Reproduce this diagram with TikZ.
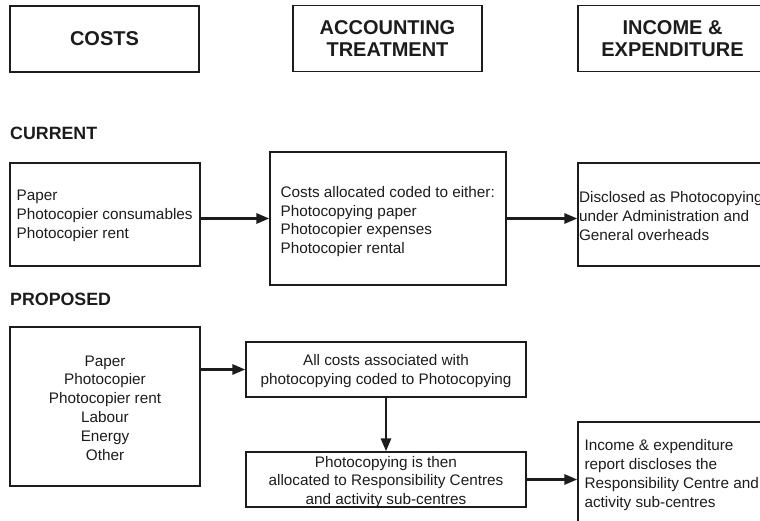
\documentclass[tikz,border=0pt]{standalone}
\usepackage{fontspec}
\setmainfont{Liberation Sans}
\usetikzlibrary{arrows.meta}
\definecolor{ink}{RGB}{30,27,28}
\tikzset{
  frame/.style={draw=ink, line width=1.3pt, inner sep=0pt},
  head/.style={frame, align=center, text=ink, minimum width=189pt,
    minimum height=66pt, font=\fontsize{20}{22}\selectfont\bfseries},
  body/.style={inner sep=0pt, text=ink, yshift=-1.5pt,
    font=\fontsize{15.3}{18.8}\selectfont},
  ltext/.style={body, align=left, anchor=west},
  ctext/.style={body, align=center},
  section/.style={anchor=west, inner sep=0pt, text=ink,
    font=\fontsize{17.8}{20}\selectfont\bfseries},
  flow/.style={draw=ink, line width=2.8pt,
    -{Triangle[length=13pt,width=10pt]}}
}
\begin{document}
\begin{tikzpicture}[x=1pt,y=-1pt]
  \useasboundingbox (0,0) rectangle (760,521);
  \clip (0,0) rectangle (760,521);

  % column headings
  \node[head] (hcost) at (104.5,39) {COSTS};
  \node[head] (hacct) at (387.5,38.5) {ACCOUNTING\\TREATMENT};
  \node[head] (hinc)  at (672.5,38.5) {INCOME \&\\EXPENDITURE};

  % current arrangement
  \node[section] (cur) at (10,133) {CURRENT};
  \node[frame, minimum width=190pt, minimum height=103pt] (c1) at (105,214.5) {};
  \node[ltext, xshift=7pt] (c1t) at (c1.west)
    {Paper\\Photocopier consumables\\Photocopier rent};
  \node[frame, minimum width=236pt, minimum height=133pt] (c2) at (388,218.5) {};
  \node[ltext, xshift=11pt, yshift=-1.5pt] (c2t) at (c2.west)
    {Costs allocated coded to either:\\Photocopying paper\\Photocopier expenses\\Photocopier rental};
  \node[frame, minimum width=194pt, minimum height=103pt] (c3) at (675,214.5) {};
  \node[ltext, xshift=1.5pt] (c3t) at (c3.west)
    {Disclosed as Photocopying\\under Administration and\\General overheads};

  \draw[flow] (c1.east |- c2.west) -- (c2.west);
  \draw[flow] (c2.east) -- (c2.east -| c3.west);

  % proposed arrangement
  \node[section] (prop) at (10,299) {PROPOSED};
  \node[frame, minimum width=190pt, minimum height=159pt] (p1) at (105,406.5) {};
  \node[ctext] (p1t) at (p1.center)
    {Paper\\Photocopier\\Photocopier rent\\Labour\\Energy\\Other};
  \node[frame, minimum width=280pt, minimum height=55pt] (p2) at (386,369.5) {};
  \node[ctext] (p2t) at (p2.center)
    {All costs associated with\\photocopying coded to Photocopying};
  \node[frame, minimum width=280pt, minimum height=55pt] (p3) at (386,479.5) {};
  \node[ctext, yshift=-1pt] (p3t) at (p3.center)
    {Photocopying is then\\allocated to Responsibility Centres\\and activity sub-centres};
  \node[frame, minimum width=194pt, minimum height=103pt] (p4) at (675,473.5) {};
  \node[ltext, xshift=7pt] (p4t) at (p4.west)
    {Income \& expenditure\\report discloses the\\Responsibility Centre and\\activity sub-centres};

  \draw[flow] (p1.east |- p2.west) -- (p2.west);
  \draw[flow] (p2.south) -- (p3.north);
  \draw[flow] (p3.east) -- (p3.east -| p4.west);
\end{tikzpicture}
\end{document}
